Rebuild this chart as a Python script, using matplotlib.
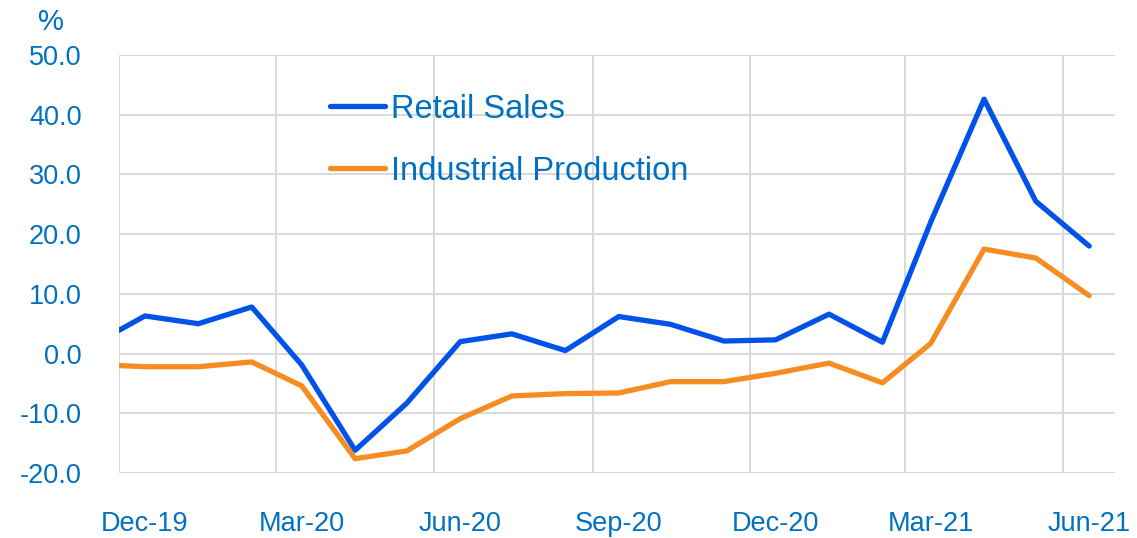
import pandas as pd
import matplotlib.pyplot as plt
import matplotlib.dates as mdates

plt.rcParams['font.family'] = ['Liberation Sans', 'DejaVu Sans']
plt.rcParams['axes.unicode_minus'] = False

# first point sits on the left edge, the rest mid-month
dates = ['2019-12-01'] + [f'{y}-{m:02d}-16' for y, m in
                          [(2019, 12)] + [(2020, m) for m in range(1, 13)] + [(2021, m) for m in range(1, 7)]]
dates = pd.to_datetime(dates)

retail = [3.9, 6.3, 5.0, 7.8, -1.9, -16.2, -8.3, 2.0, 3.3, 0.5, 6.2, 4.9, 2.1, 2.3, 6.6, 1.9, 22.0, 42.6, 25.5, 18.0]
industrial = [-2.0, -2.2, -2.2, -1.4, -5.4, -17.6, -16.3, -10.9, -7.1, -6.7, -6.6, -4.7, -4.7, -3.3, -1.6, -4.9, 1.7, 17.5, 16.0, 9.7]

grid_months = ['2019-12-01', '2020-03-01', '2020-06-01', '2020-09-01', '2020-12-01', '2021-03-01', '2021-06-01']
label_dates = ['2019-12-16', '2020-03-16', '2020-06-16', '2020-09-16', '2020-12-16', '2021-03-16', '2021-06-16']
yticks = [-20, -10, 0, 10, 20, 30, 40, 50]

txt = '#0070C0'
blue = '#0052E8'
orange = '#F68D22'
gridc = '#D9D9D9'

fig = plt.figure(figsize=(11.37, 5.38), dpi=100)
ax = fig.add_axes([0.1047, 0.1208, 0.8760, 0.7770])

ax.plot(dates, retail, color=blue, lw=3.8, label='Retail Sales', solid_capstyle='round', zorder=3)
ax.plot(dates, industrial, color=orange, lw=3.8, label='Industrial Production', solid_capstyle='round', zorder=3)

ax.set_xlim(pd.Timestamp('2019-12-01'), pd.Timestamp('2021-07-01'))
ax.set_ylim(-20, 50)

ax.set_yticks(yticks)
ax.set_yticklabels([f'{v:.1f}' for v in yticks])
ax.set_xticks(pd.to_datetime(grid_months))
ax.set_xticklabels([])
ax.set_xticks(pd.to_datetime(label_dates), minor=True)
ax.xaxis.set_minor_formatter(mdates.DateFormatter('%b-%y'))

ax.tick_params(axis='y', length=0, pad=27, labelsize=19.5, labelcolor=txt)
ax.tick_params(axis='x', which='both', length=0, labelsize=19.5, labelcolor=txt, pad=27)

ax.grid(True, axis='both', which='major', color=gridc, lw=1.4, zorder=0)
for s in ax.spines.values():
    s.set_visible(False)
ax.axvline(pd.Timestamp('2019-12-01'), color=gridc, lw=1.4, zorder=0)

fig.text(51 / 1137, 1 - 22 / 538, '%', color=txt, fontsize=21, ha='center', va='center')

ax.legend(loc='upper left', bbox_to_anchor=(0.2118, 0.907), frameon=False, fontsize=23.5,
          labelcolor=txt, handlelength=1.7, handletextpad=0.16, labelspacing=0.95,
          borderpad=0, borderaxespad=0)

fig.savefig('out.png', dpi=100)
